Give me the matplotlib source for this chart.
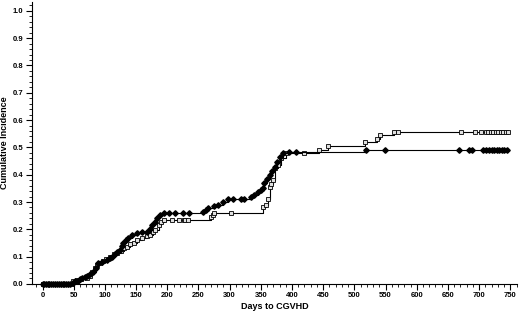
import matplotlib
matplotlib.use("Agg")
import matplotlib.pyplot as plt
from matplotlib.ticker import MultipleLocator

plt.rcParams['font.family'] = ['Liberation Sans', 'DejaVu Sans']

# filled diamond group
days_a = [0, 2, 5, 8, 11, 14, 17, 20, 23, 26, 29, 32, 35, 38, 41, 44,
          48, 52, 56, 60, 63, 68, 72, 76, 81, 85, 89, 95, 103, 108, 111, 116,
          120, 124, 127, 129, 133, 137, 143, 152, 160, 168, 172, 176, 180, 184,
          189, 194, 202, 213, 225, 234, 258, 262, 265, 275, 281, 289, 297, 305,
          318, 323, 335, 339, 345, 350, 354, 355, 360, 365, 368, 372, 376, 380,
          386, 395, 407, 518, 549, 668, 684, 688, 706, 711, 716, 720, 724, 728,
          732, 736, 740, 745]
cum_a = [0] * 16 + [
    0.005, 0.01, 0.012, 0.018, 0.02, 0.025, 0.03, 0.035, 0.045, 0.06, 0.075,
    0.08, 0.088, 0.095, 0.1, 0.11, 0.118, 0.125, 0.14, 0.15, 0.16, 0.17,
    0.178, 0.187, 0.19, 0.19, 0.2, 0.216, 0.228, 0.24, 0.253, 0.26, 0.26,
    0.26, 0.26, 0.26, 0.265, 0.272, 0.278, 0.285, 0.29, 0.3, 0.311, 0.311,
    0.311, 0.311, 0.32, 0.326, 0.335, 0.345, 0.35, 0.37, 0.385, 0.40, 0.415,
    0.43, 0.447, 0.465, 0.48, 0.483, 0.483, 0.49, 0.49, 0.49, 0.49, 0.49,
    0.49, 0.49, 0.49, 0.49, 0.49, 0.49, 0.49, 0.49, 0.49, 0.49]

# open square group
days_b = [0, 1, 4, 7, 10, 13, 16, 19, 22, 25, 28, 31, 34, 37, 40, 43, 46,
          48, 55, 62, 71, 76, 80, 84, 88, 92, 97, 102, 108, 114, 120, 126,
          131, 135, 140, 146, 152, 160, 167, 173, 177, 181, 186, 190, 194,
          208, 218, 226, 229, 233, 270, 273, 275, 302, 354, 358, 362, 364, 367,
          370, 372, 377, 383, 391, 420, 444, 457, 517, 536, 541, 564, 570, 671,
          693, 703, 711, 715, 719, 723, 727, 731, 735, 739, 743, 747]
cum_b = [0] * 17 + [
    0.01, 0.015, 0.018, 0.02, 0.03, 0.045, 0.06, 0.07, 0.078, 0.085, 0.09,
    0.1, 0.108, 0.113, 0.12, 0.13, 0.137, 0.145, 0.15, 0.16, 0.168, 0.175,
    0.18, 0.19, 0.198, 0.216, 0.225, 0.234, 0.234, 0.234, 0.234, 0.234,
    0.234, 0.245, 0.253, 0.26, 0.26, 0.282, 0.29, 0.31, 0.355, 0.365, 0.38,
    0.425, 0.436, 0.46, 0.478, 0.478, 0.49, 0.505, 0.52, 0.531, 0.546,
    0.557, 0.557, 0.557, 0.557, 0.557, 0.557, 0.557, 0.557, 0.557, 0.557,
    0.557, 0.557, 0.557, 0.557, 0.557]

fig = plt.figure(figsize=(5.2, 3.12), dpi=100)
ax = fig.add_axes([0.0615, 0.09, 0.933, 0.904])

ax.plot(days_b, cum_b, drawstyle='steps-post', color='black', lw=0.8,
        marker='s', ms=3.2, mfc='#e0e0e0', mec='black', mew=0.6, clip_on=False)
ax.plot(days_a, cum_a, drawstyle='steps-post', color='black', lw=0.8,
        marker='D', ms=2.8, mfc='black', mec='black', clip_on=False)

ax.set_xlim(-17, 761)
ax.set_ylim(0, 1.033)
ax.spines['top'].set_visible(False)
ax.spines['right'].set_visible(False)
ax.xaxis.set_major_locator(MultipleLocator(50))
ax.xaxis.set_minor_locator(MultipleLocator(10))
ax.yaxis.set_major_locator(MultipleLocator(0.1))
ax.yaxis.set_minor_locator(MultipleLocator(0.02))
ax.set_yticks([i / 10 for i in range(11)])
ax.set_yticklabels(['%.1f' % (i / 10) for i in range(11)])
ax.tick_params(which='major', length=4, width=0.8, labelsize=5.5, pad=2)
ax.tick_params(which='minor', length=2, width=0.6)
for lab in ax.get_xticklabels() + ax.get_yticklabels():
    lab.set_fontweight('bold')

ax.set_xlabel('Days to CGVHD', fontsize=6.5, fontweight='bold', labelpad=2)
ax.set_ylabel('Cumulative Incidence', fontsize=6.5, fontweight='bold', labelpad=3)

fig.savefig('out.png', dpi=100)
